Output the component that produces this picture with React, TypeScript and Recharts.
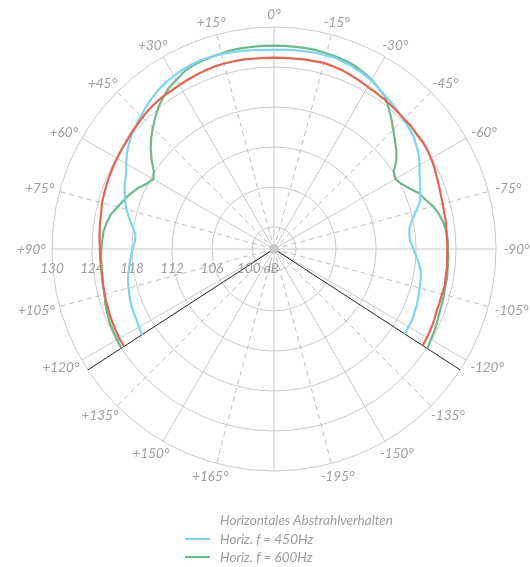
import React from "react";
import {
  RadarChart,
  Radar,
  PolarGrid,
  PolarAngleAxis,
  PolarRadiusAxis,
  Customized,
} from "recharts";

const W = 530;
const H = 567;
const CX = 274;
const CY = 249;
const OUTER_R = 222;
const STEP = 3;
const LIMIT = 123;

// level in dB, every 3 degrees from 0 to 123 on each side
const RED_RIGHT = [
  125.4, 125.4, 125.4, 125.5, 125.5, 125.6, 125.5, 125.4, 125.2, 125.0, 124.8,
  124.7, 124.6, 124.5, 124.4, 124.3, 124.3, 124.2, 124.2, 124.1, 123.9, 123.7,
  123.4, 123.2, 123.0, 122.9, 122.8, 122.8, 122.7, 122.7, 122.7, 122.7, 122.8,
  122.8, 122.9, 122.8, 122.8, 122.8, 123.0, 123.1, 123.2, 123.3,
];
const RED_LEFT = [
  125.4, 125.4, 125.4, 125.5, 125.5, 125.5, 125.5, 125.4, 125.3, 125.2, 125.1,
  125.0, 125.0, 124.9, 124.8, 124.6, 124.4, 124.3, 124.1, 124.0, 123.9, 123.8,
  123.7, 123.6, 123.5, 123.4, 123.2, 123.1, 123.0, 122.9, 122.8, 122.8, 122.8,
  122.8, 122.9, 123.0, 123.1, 123.2, 123.3, 123.4, 123.5, 123.5,
];
const BLUE_RIGHT = [
  126.6, 126.6, 126.7, 126.7, 126.8, 126.8, 126.8, 126.6, 126.4, 126.2, 125.9,
  125.5, 125.1, 124.8, 124.5, 124.2, 123.9, 123.6, 123.1, 122.6, 121.9, 121.2,
  120.7, 120.2, 119.7, 118.8, 117.9, 117.3, 117.1, 117.2, 117.6, 118.1, 118.6,
  119.0, 119.2, 119.3, 119.5, 119.7, 119.8, 120.0, 120.0, 120.1,
];
const BLUE_LEFT = [
  126.6, 126.6, 126.7, 126.8, 126.9, 127.0, 127.0, 127.1, 127.0, 126.9, 126.7,
  126.5, 126.2, 125.8, 125.4, 124.9, 124.5, 124.1, 123.6, 123.0, 122.3, 121.6,
  121.2, 120.7, 120.2, 119.6, 118.9, 118.2, 117.6, 117.6, 117.9, 118.2, 118.5,
  118.8, 119.1, 119.3, 119.5, 119.7, 119.8, 119.9, 120.1, 120.3,
];
const GREEN_RIGHT = [
  127.2, 127.2, 127.2, 127.2, 127.2, 127.1, 127.0, 126.9, 126.7, 126.4, 126.0,
  125.5, 125.0, 124.0, 123.0, 122.0, 121.1, 120.3, 119.4, 118.1, 117.7, 118.2,
  119.0, 120.0, 120.6, 121.4, 122.0, 122.4, 122.7, 122.8, 122.8, 122.9, 122.9,
  123.0, 123.0, 123.1, 123.2, 123.3, 123.5, 123.7, 123.9, 124.1,
];
const GREEN_LEFT = [
  127.2, 127.2, 127.2, 127.2, 127.2, 127.1, 127.0, 126.9, 126.8, 126.5, 126.0,
  125.6, 124.9, 124.2, 123.3, 122.4, 121.5, 120.5, 119.4, 118.2, 117.6, 118.2,
  119.1, 119.8, 120.4, 121.0, 121.7, 122.1, 122.4, 122.5, 122.6, 122.7, 122.7,
  122.8, 122.9, 123.0, 123.3, 123.5, 123.7, 123.8, 123.9, 124.0,
];

const RADIUS_DOMAIN = [96.7, 130];
const RADIUS_TICKS = [100, 106, 112, 118, 124, 130];

const ANGLE_TICKS = [
  0, -15, -30, -45, -60, -75, -90, -105, -120, -135, -150, -165, 180, 165, 150,
  135, 120, 105, 90, 75, 60, 45, 30, 15,
];
const ANGLE_LABELS = [
  "0°", "-15°", "-30°", "-45°", "-60°", "-75°", "-90°", "-105°", "-120°",
  "-135°", "-150°", "-195°", "+/-180°", "+165°", "+150°", "+135°", "+120°",
  "+105°", "+90°", "+75°", "+60°", "+45°", "+30°", "+15°",
];

const LEGEND_TITLE = "Horizontales Abstrahlverhalten";

const SERIES = [
  { key: "green", name: "Horiz. f = 600Hz", color: "#6db98a", right: GREEN_RIGHT, left: GREEN_LEFT },
  { key: "blue", name: "Horiz. f = 450Hz", color: "#7fd4f2", right: BLUE_RIGHT, left: BLUE_LEFT },
  { key: "red", name: "Horiz. f = 300Hz", color: "#e0674f", right: RED_RIGHT, left: RED_LEFT },
];
const LEGEND_ORDER = ["blue", "green"];

// no value outside the measured range, the line stops there
const data = Array.from({ length: 360 / STEP }, (_, i) => {
  const deg = i <= 180 / STEP ? -i * STEP : 360 - i * STEP;
  const row: Record<string, number | null> = { deg };
  SERIES.forEach((s) => {
    const src = deg <= 0 ? s.right : s.left;
    row[s.key] = Math.abs(deg) <= LIMIT ? src[Math.abs(deg) / STEP] : null;
  });
  return row;
});

const solidAngles = ANGLE_TICKS.filter((d) => d % 30 === 0).map((d) => 90 + d);
const dashedAngles = ANGLE_TICKS.filter((d) => d % 30 !== 0).map((d) => 90 + d);
const cutAngles = [90 - LIMIT, 90 + LIMIT];

const FONT = "Lato, 'Open Sans', sans-serif";
const TEXT = "#9e9e9e";

const isGap = (v: any) => v === null || v === undefined || Number.isNaN(v);

// open polyline through the radar points, broken where there is no value
const RadarLine = (props: any) => {
  const { points, stroke, strokeWidth } = props;
  if (!points || !points.length) return null;
  const segs: any[][] = [];
  let cur: any[] = [];
  points.forEach((p: any) => {
    if (isGap(p.value)) {
      if (cur.length) segs.push(cur);
      cur = [];
    } else cur.push(p);
  });
  if (cur.length) segs.push(cur);
  let closed = false;
  if (segs.length > 1 && !isGap(points[0].value) && !isGap(points[points.length - 1].value)) {
    const last = segs.pop()!;
    segs[0] = [...last, ...segs[0]];
  } else if (segs.length === 1 && segs[0].length === points.length) {
    closed = true;
  }
  const d =
    segs
      .map((s) => s.map((p, i) => `${i === 0 ? "M" : "L"}${p.x},${p.y}`).join(""))
      .join("") + (closed ? "Z" : "");
  return (
    <path
      d={d}
      fill="none"
      stroke={stroke}
      strokeWidth={strokeWidth}
      strokeLinejoin="round"
      strokeLinecap="butt"
    />
  );
};

const AngleTick = (props: any) => {
  const { payload } = props;
  const idx = ANGLE_TICKS.indexOf(payload.value);
  if (idx < 0) return <g />;
  const label = ANGLE_LABELS[idx];
  const rad = (payload.coordinate * Math.PI) / 180;
  const ux = Math.cos(rad);
  const uy = -Math.sin(rad);
  const r = OUTER_R + 7;
  const halfW = label.length * 3.4;
  return (
    <text
      x={CX + r * ux + halfW * ux}
      y={CY + r * uy + 6 * uy}
      textAnchor="middle"
      dominantBaseline="central"
      fill={TEXT}
      fontSize={13.5}
      fontStyle="italic"
      fontWeight={400}
      fontFamily={FONT}
    >
      {label}
    </text>
  );
};

const RadiusTick = (props: any) => {
  const { x, y, payload } = props;
  const v = payload.value;
  const common = {
    y: y + 19,
    dominantBaseline: "central" as const,
    fill: TEXT,
    fontSize: 13.5,
    fontStyle: "italic",
    fontWeight: 400,
    fontFamily: FONT,
  };
  if (v === RADIUS_TICKS[0]) {
    return (
      <text x={x - 15} textAnchor="start" {...common}>
        {v} dB
      </text>
    );
  }
  return (
    <text x={x} textAnchor="middle" {...common}>
      {v}
    </text>
  );
};

const CenterDot = () => <circle cx={CX} cy={CY} r={4.5} fill="#c8c8c8" />;

export default function App() {
  return (
    <div style={{ position: "fixed", left: 0, top: 0, width: W, height: H, overflow: "hidden" }}>
      <RadarChart
        width={W}
        height={H}
        data={data}
        cx={CX}
        cy={CY}
        innerRadius={0}
        outerRadius={OUTER_R}
        margin={{ top: 0, right: 0, bottom: 0, left: 0 }}
      >
        <PolarGrid gridType="circle" polarAngles={solidAngles} stroke="#c9c9c9" />
        <PolarGrid
          gridType="circle"
          polarAngles={dashedAngles}
          polarRadius={[]}
          stroke="#bdbdbd"
          strokeDasharray="5 4"
        />
        <PolarAngleAxis dataKey="deg" tick={AngleTick} tickLine={false} axisLine={false} />
        <PolarRadiusAxis
          angle={180}
          domain={RADIUS_DOMAIN}
          ticks={RADIUS_TICKS}
          type="number"
          tick={RadiusTick}
          tickLine={false}
          axisLine={false}
        />
        {SERIES.map((s) => (
          <Radar
            key={s.key}
            name={s.name}
            dataKey={s.key}
            stroke={s.color}
            strokeWidth={2.2}
            fill="none"
            fillOpacity={0}
            dot={false}
            shape={RadarLine}
            isAnimationActive={false}
          />
        ))}
        <PolarGrid gridType="circle" polarAngles={cutAngles} polarRadius={[]} stroke="#222" />
        <Customized component={CenterDot} />
      </RadarChart>
      <div
        style={{
          position: "absolute",
          left: 185,
          top: 511,
          fontFamily: FONT,
          fontStyle: "italic",
          fontWeight: 400,
          fontSize: 13.5,
          color: TEXT,
          lineHeight: "18.5px",
        }}
      >
        <div style={{ paddingLeft: 35 }}>{LEGEND_TITLE}</div>
        {LEGEND_ORDER.map((k) => {
          const s = SERIES.find((x) => x.key === k)!;
          return (
            <div key={k} style={{ display: "flex", alignItems: "center", height: 18.5 }}>
              <span
                style={{ display: "inline-block", width: 25, height: 2, background: s.color, marginRight: 10 }}
              />
              {s.name}
            </div>
          );
        })}
      </div>
    </div>
  );
}
